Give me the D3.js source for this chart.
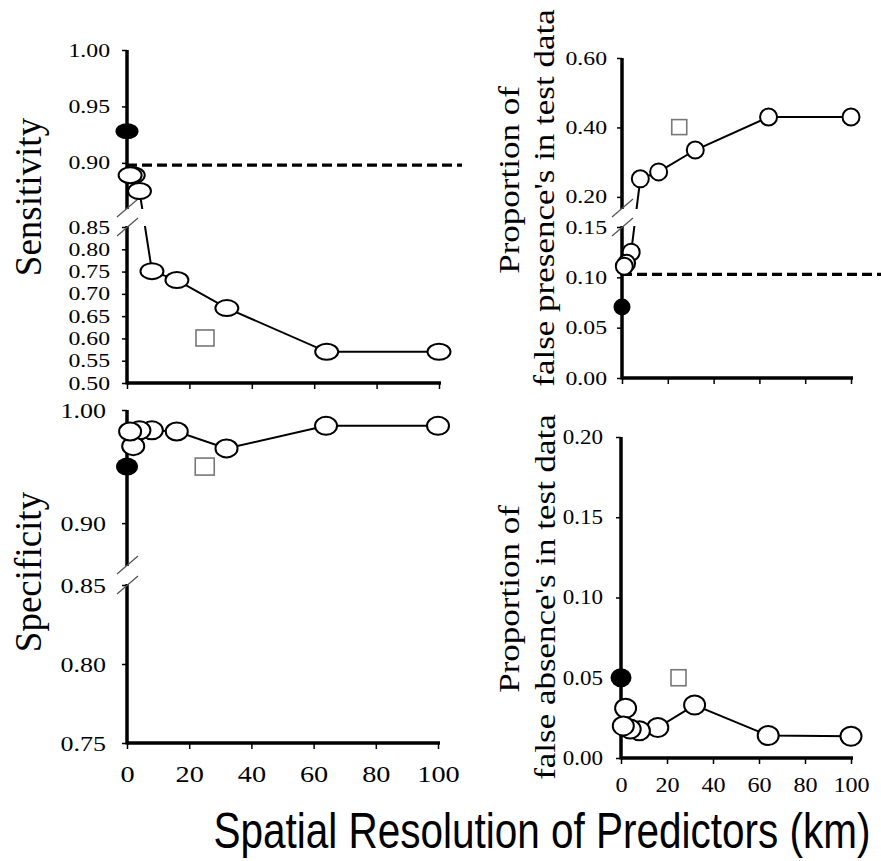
<!DOCTYPE html>
<html lang="en">
<head>
    <meta charset="UTF-8">
    <title>Accuracy vs spatial resolution</title>
    <script src="https://cdn.jsdelivr.net/npm/d3@7"></script>
    <style>
        body { margin: 0; background: #fff; }
        svg { display: block; }
    </style>
</head>
<body>
<svg width="881" height="861"></svg>
<script>
    // data
    const resolutions = [1, 2, 4, 8, 16, 32, 64, 100];
    const sensitivity = [0.889, 0.889, 0.875, 0.751, 0.731, 0.668, 0.570, 0.570];
    const falsePresence = [0.111, 0.114, 0.125, 0.252, 0.272, 0.335, 0.430, 0.430];
    const specificity = [0.981, 0.968, 0.982, 0.982, 0.981, 0.966, 0.986, 0.986];
    const falseAbsence = [0.020, 0.031, 0.018, 0.017, 0.019, 0.033, 0.014, 0.0136];

    // single model at resolution 0 (filled) and the square marker
    const filledPoint = { sens: 0.928, fp: 0.0705, spec: 0.950, fa: 0.050 };
    const squareX = 25;
    const squarePoint = { sens: 0.601, fp: 0.401, spec: 0.950, fa: 0.050 };
    const refLine = { sens: 0.898, fp: 0.103 };

    const xTicks = [0, 20, 40, 60, 80, 100];
    const sensTicks = [0.50, 0.55, 0.60, 0.65, 0.70, 0.75, 0.80, 0.85, 0.90, 0.95, 1.00];
    const fpTicks = [0.00, 0.05, 0.10, 0.15, 0.20, 0.40, 0.60];
    const specTicks = [0.75, 0.80, 0.85, 0.90, 1.00];
    const faTicks = [0.00, 0.05, 0.10, 0.15, 0.20];

    const SERIF = '"Liberation Serif", "Times New Roman", Times, serif';
    const SANS = '"Liberation Sans", Arial, Helvetica, sans-serif';

    const svg = d3.select("svg");

    function drawPanel(cfg) {
        const g = svg.append("g");
        const x = d3.scaleLinear().domain([0, 100]).range(cfg.xRange);
        const y = d3.scaleLinear().domain(cfg.yDomain).range(cfg.yRange);
        const x0 = cfg.xRange[0];
        const yBase = cfg.yRange[0];

        // reference line
        if (cfg.ref != null) {
            g.append("line")
             .attr("x1", x0).attr("x2", cfg.refEnd)
             .attr("y1", y(cfg.ref)).attr("y2", y(cfg.ref))
             .attr("stroke", "#000").attr("stroke-width", 3.2)
             .attr("stroke-dasharray", "10,5");
        }

        // x axis
        const xa = g.append("g")
            .attr("transform", `translate(0,${yBase})`)
            .call(d3.axisBottom(x).tickValues(xTicks).tickSize(6).tickSizeOuter(0)
                  .tickFormat(cfg.xLabels ? d3.format("d") : ""));
        xa.select(".domain").attr("stroke-width", 3.5).attr("d", `M${x0},0H${cfg.xRange[1] + 2}`);
        xa.selectAll(".tick line").attr("stroke-width", 1.5);
        xa.selectAll(".tick text")
          .attr("y", cfg.xLabelDy)
          .attr("dy", null)
          .style("font-family", SERIF)
          .style("font-size", cfg.xFont + "px")
          .attr("transform", `scale(${cfg.sx},1)`);

        // y axis
        const ya = g.append("g")
            .attr("transform", `translate(${x0},0)`)
            .call(d3.axisLeft(y).tickValues(cfg.yTicks).tickSize(5).tickSizeOuter(0)
                  .tickFormat(d3.format(".2f")));
        ya.select(".domain").attr("stroke-width", 3.5)
          .attr("d", `M0,${cfg.yRange[cfg.yRange.length - 1]}V${yBase + 1.5}`);
        ya.selectAll(".tick line").attr("stroke-width", 1.5);
        ya.selectAll(".tick text")
          .attr("x", -cfg.yLabelGap / cfg.sx)
          .style("font-family", SERIF)
          .style("font-size", cfg.yFont + "px")
          .attr("transform", `scale(${cfg.sx},1)`);

        // series line
        const pts = resolutions.map((r, i) => [r, cfg.values[i]]);
        g.append("path")
         .datum(pts)
         .attr("fill", "none").attr("stroke", "#000").attr("stroke-width", 2)
         .attr("d", d3.line().x(d => x(d[0])).y(d => y(d[1])));

        // axis break
        if (cfg.brk) {
            const [yTop, yBot] = [y(cfg.brk[0]), y(cfg.brk[1])];
            g.append("rect")
             .attr("x", x0 - 12).attr("width", 32)
             .attr("y", yTop + 1).attr("height", yBot - yTop - 2)
             .attr("fill", "#fff");
            [yTop, yBot].forEach(yy => {
                g.append("line")
                 .attr("x1", x0 - 10).attr("y1", yy + 9)
                 .attr("x2", x0 + 11).attr("y2", yy - 9)
                 .attr("stroke", "#555").attr("stroke-width", 1.3);
            });
        }

        // square marker
        g.append("rect")
         .attr("x", x(squareX) - cfg.sq[0] / 2).attr("y", y(cfg.square) - cfg.sq[1] / 2)
         .attr("width", cfg.sq[0]).attr("height", cfg.sq[1])
         .attr("fill", "#fff").attr("stroke", "#777").attr("stroke-width", 1.6);

        // open markers, smallest resolution on top
        g.selectAll(".open")
         .data(pts.slice().reverse())
         .enter().append("ellipse")
         .attr("class", "open")
         .attr("cx", d => x(d[0])).attr("cy", d => y(d[1]))
         .attr("rx", cfg.mk[0]).attr("ry", cfg.mk[1])
         .attr("fill", "#fff").attr("stroke", "#000").attr("stroke-width", 2);

        // filled marker
        g.append("ellipse")
         .attr("cx", x(0)).attr("cy", y(cfg.filled))
         .attr("rx", cfg.mk[0]).attr("ry", cfg.mk[1])
         .attr("fill", "#000");

        // y title
        cfg.title.forEach(t => {
            svg.append("text")
               .attr("transform", `translate(${t.x},${t.y}) scale(${t.s},1) rotate(-90)`)
               .attr("text-anchor", "middle")
               .style("font-family", SERIF)
               .style("font-size", t.size + "px")
               .text(t.text);
        });
    }

    drawPanel({
        xRange: [127, 439], yDomain: [0.5, 0.85, 0.86, 1.0], yRange: [383, 227, 208, 50],
        yTicks: sensTicks, values: sensitivity, filled: filledPoint.sens, square: squarePoint.sens,
        ref: refLine.sens, refEnd: 462, brk: [0.86, 0.85],
        xLabels: false, xFont: 20, xLabelDy: 30, yFont: 19, yLabelGap: 17, sx: 1.25,
        mk: [11.5, 8], sq: [18, 16],
        title: [{ text: "Sensitivity", x: 41, y: 197, size: 37, s: 1 }]
    });

    drawPanel({
        xRange: [622, 851], yDomain: [0, 0.15, 0.168, 0.6], yRange: [378, 227, 208, 58],
        yTicks: fpTicks, values: falsePresence, filled: filledPoint.fp, square: squarePoint.fp,
        ref: refLine.fp, refEnd: 881, brk: [0.168, 0.15],
        xLabels: false, xFont: 20, xLabelDy: 30, yFont: 19, yLabelGap: 15, sx: 1.25,
        mk: [8.5, 8.5], sq: [15, 15],
        title: [{ text: "Proportion of", x: 519, y: 180, size: 35, s: 0.85 },
                { text: "false presence's in test data", x: 554, y: 198, size: 35, s: 0.85 }]
    });

    drawPanel({
        xRange: [127, 438], yDomain: [0.75, 0.85, 0.863, 1.0], yRange: [743, 585, 565, 410],
        yTicks: specTicks, values: specificity, filled: filledPoint.spec, square: squarePoint.spec,
        ref: null, brk: [0.863, 0.85],
        xLabels: true, xFont: 24, xLabelDy: 39, yFont: 22, yLabelGap: 21, sx: 1.18,
        mk: [11, 9], sq: [19, 17],
        title: [{ text: "Specificity", x: 41, y: 572, size: 37, s: 1 }]
    });

    drawPanel({
        xRange: [621, 851], yDomain: [0, 0.2], yRange: [758, 437],
        yTicks: faTicks, values: falseAbsence, filled: filledPoint.fa, square: squarePoint.fa,
        ref: null, brk: null,
        xLabels: true, xFont: 21, xLabelDy: 34, yFont: 20, yLabelGap: 18, sx: 1.15,
        mk: [10.5, 9.5], sq: [15, 16],
        title: [{ text: "Proportion of", x: 519, y: 599, size: 35, s: 0.85 },
                { text: "false absence's in test data", x: 555, y: 597, size: 35, s: 0.85 }]
    });

    // shared x title
    svg.append("text")
       .attr("transform", "translate(542,848) scale(0.81,1)")
       .attr("text-anchor", "middle")
       .style("font-family", SANS)
       .style("font-size", "50px")
       .text("Spatial Resolution of Predictors (km)");
</script>
</body>
</html>
